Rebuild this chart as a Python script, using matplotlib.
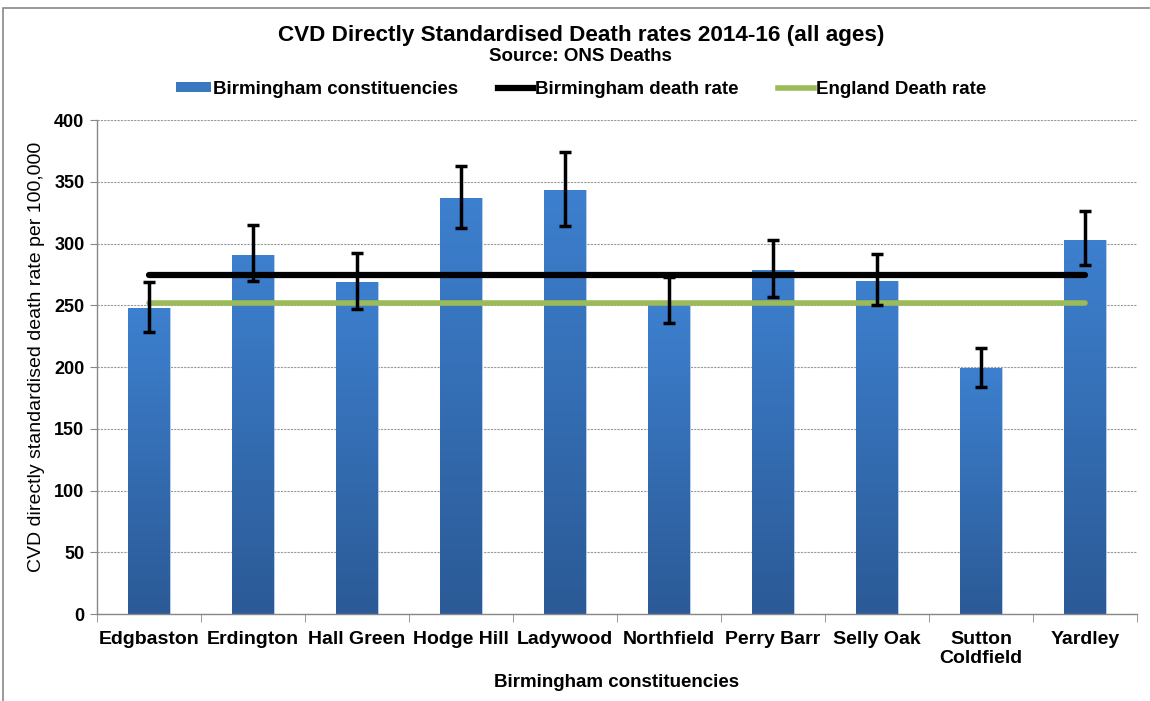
import numpy as np
import matplotlib.pyplot as plt
from matplotlib.patches import Rectangle
from matplotlib.lines import Line2D
from matplotlib.colors import LinearSegmentedColormap

plt.rcParams['font.family'] = ['Liberation Sans', 'DejaVu Sans']
plt.rcParams['font.weight'] = 'bold'

constituencies = ['Edgbaston', 'Erdington', 'Hall Green', 'Hodge Hill', 'Ladywood',
                  'Northfield', 'Perry Barr', 'Selly Oak', 'Sutton\nColdfield', 'Yardley']
rates = [247.5, 291, 268.5, 337, 343.5, 250.5, 278.5, 270, 199.5, 303]
ci_lower = [228, 269.5, 247, 312.5, 314.5, 235.5, 257, 250, 184, 282.5]
ci_upper = [269, 315, 292, 362.5, 374, 273, 302.5, 291.5, 215, 326.5]
birmingham_rate = 274.5
england_rate = 252

fig = plt.figure(figsize=(11.5, 7.01), dpi=100)
ax = fig.add_axes([0.0843, 0.1241, 0.9044, 0.7047])

x = np.arange(len(constituencies))
width = 0.40

# bars filled with a vertical blue gradient
grad = LinearSegmentedColormap.from_list('bluegrad', ['#2b5a96', '#3d80cf'])
bars = ax.bar(x, rates, width=width, color='none', edgecolor='#a9c4e6', linewidth=0.6, zorder=2)
g = np.linspace(0, 1, 256).reshape(-1, 1)
for b in bars:
    x0, y0 = b.get_x(), b.get_y()
    w, h = b.get_width(), b.get_height()
    im = ax.imshow(g, cmap=grad, aspect='auto', origin='lower',
                   extent=[x0, x0 + w, y0, y0 + h], zorder=2)
    im.set_clip_path(b)

ax.plot([x[0], x[-1]], [birmingham_rate, birmingham_rate], color='black', lw=4.5,
        solid_capstyle='round', zorder=3)
ax.plot([x[0], x[-1]], [england_rate, england_rate], color='#9bbb59', lw=4,
        solid_capstyle='round', zorder=3)

yerr = [np.array(rates) - np.array(ci_lower), np.array(ci_upper) - np.array(rates)]
ax.errorbar(x, rates, yerr=yerr, fmt='none', ecolor='black', elinewidth=2.5,
            capsize=4, capthick=2.5, zorder=4)

ax.set_xlim(-0.5, len(constituencies) - 0.5)
ax.set_ylim(0, 400)
ax.set_yticks(np.arange(0, 401, 50))
ax.tick_params(axis='y', labelsize=13, length=5, color='#888888', pad=4)
ax.set_xticks(x)
ax.set_xticklabels(constituencies, fontsize=14, linespacing=1.15)
ax.set_xticks(np.arange(-0.5, len(constituencies)), minor=True)
ax.tick_params(axis='x', which='major', length=0, pad=12)
ax.tick_params(axis='x', which='minor', length=6, color='#888888')
ax.grid(axis='y', color='#999999', linestyle=(0, (2, 1)), linewidth=0.8, zorder=0)
ax.set_axisbelow(True)
for s in ['top', 'right']:
    ax.spines[s].set_visible(False)
for s in ['left', 'bottom']:
    ax.spines[s].set_color('#888888')
    ax.spines[s].set_linewidth(1.0)

ax.set_xlabel('Birmingham constituencies', fontsize=13.5, fontweight='bold', labelpad=5)
ax.set_ylabel('CVD directly standardised death rate per 100,000', fontsize=14,
              fontweight='normal')
ax.yaxis.set_label_coords(-0.05, 0.52)

fig.text(0.505, 0.949, 'CVD Directly Standardised Death rates 2014-16 (all ages)',
         ha='center', va='center', fontsize=16.2)
fig.text(0.505, 0.920, 'Source: ONS Deaths', ha='center', va='center', fontsize=13.5)

handles = [Rectangle((0, 0), 1, 1, facecolor='#3a78c2'),
           Line2D([0], [0], color='black', lw=4.5),
           Line2D([0], [0], color='#9bbb59', lw=4)]
labels = ['Birmingham constituencies', 'Birmingham death rate', 'England Death rate']
fig.legend(handles, labels, loc='center', bbox_to_anchor=(0.505, 0.873), ncol=3,
           frameon=False, fontsize=13.5, handlelength=1.9, handleheight=0.5,
           handletextpad=0.1, columnspacing=2.1)

# outer chart frame
fig.patches.append(Rectangle((3 / 1150, -0.1), 1.2, 1 - 8 / 701 + 0.1,
                             transform=fig.transFigure, fill=False,
                             edgecolor='#888888', linewidth=1.2))

fig.savefig('out.png', dpi=100)
